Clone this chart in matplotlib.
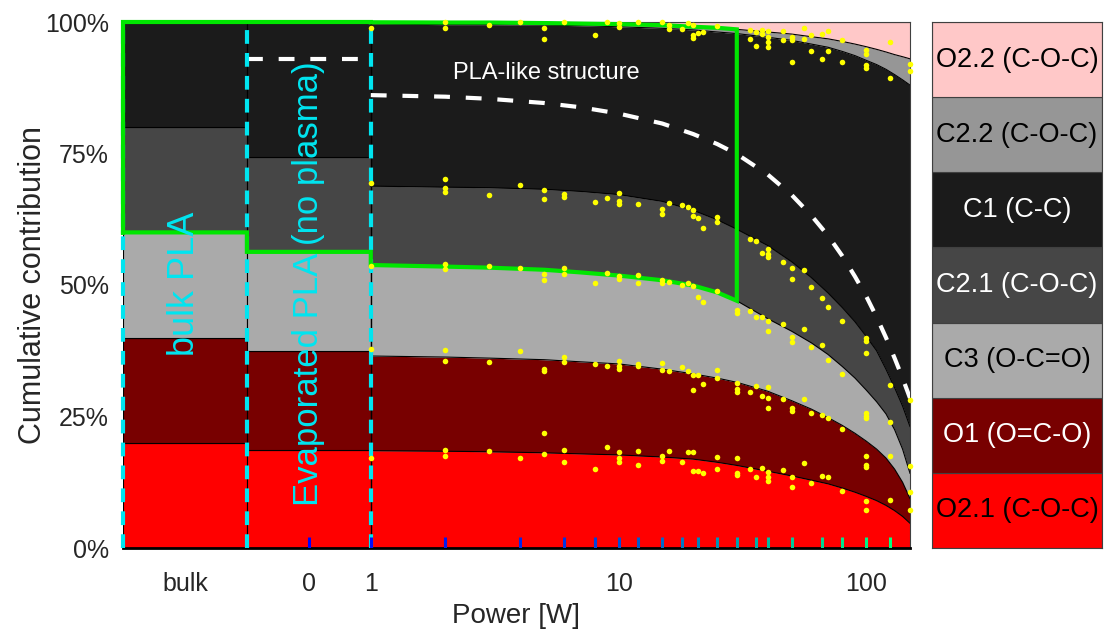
import numpy as np
from matplotlib import pyplot as plt

plt.rcParams['font.family'] = ['Liberation Sans', 'DejaVu Sans']

# components, bottom to top of the stack
labels = ['O2.1 (C-O-C)', 'O1 (O=C-O)', 'C3 (O-C=O)', 'C2.1 (C-O-C)', 'C1 (C-C)', 'C2.2 (C-O-C)', 'O2.2 (C-O-C)']
colors = ['#FF0000', '#780000', '#AAAAAA', '#464646', '#1B1B1B', '#969696', '#FFC8C8']
text_colors = ['black', 'white', 'black', 'white', 'white', 'black', 'black']

# cumulative contribution (%) for bulk PLA and evaporated PLA (no plasma)
bulk_cum = [20, 40, 60, 80, 100, 100, 100]
zero_cum = [18.7, 37.5, 56.3, 74.3, 100, 100, 100]

# fitted cumulative contribution (%) vs plasma power [W]
power = [1, 2, 3, 5, 7, 10, 15, 20, 25, 30, 40, 50, 60, 70, 80, 90, 100, 110, 120, 130, 140, 150]
cum_O21 = [18.5, 18.4, 18.3, 18.1, 17.9, 17.7, 17.3, 16.9, 16.3, 15.7, 14.6, 13.7, 12.9, 12.2, 11.4, 10.6, 9.8, 9.0, 8.1, 7.1, 6.0, 4.7]
cum_O1 = [36.5, 36.3, 36.1, 35.8, 35.4, 35.0, 34.0, 33.1, 32.3, 31.5, 29.8, 28.0, 26.4, 24.8, 23.3, 21.8, 20.3, 18.8, 17.1, 15.0, 12.5, 9.4]
cum_C3 = [53.8, 53.5, 53.3, 52.9, 52.4, 51.8, 50.9, 49.9, 48.6, 47.0, 43.6, 41.2, 39.0, 36.8, 34.5, 32.3, 30.0, 27.8, 25.5, 22.5, 18.8, 14.2]
cum_C21 = [68.8, 68.6, 68.5, 68.2, 67.8, 67.2, 65.9, 64.2, 62.4, 60.6, 57.5, 54.4, 51.4, 48.5, 45.7, 43.0, 40.2, 37.5, 34.0, 30.5, 27.0, 23.1]
cum_C1 = [99.6, 99.5, 99.5, 99.4, 99.3, 99.1, 98.8, 98.5, 98.1, 97.8, 97.1, 96.5, 95.8, 95.2, 94.4, 93.6, 92.7, 91.9, 91.0, 90.0, 89.0, 88.0]
cum_C22 = [99.95, 99.9, 99.9, 99.8, 99.7, 99.6, 99.4, 99.1, 98.9, 98.6, 98.1, 97.7, 97.2, 96.8, 96.3, 95.8, 95.3, 94.8, 94.3, 93.8, 93.4, 93.0]
cum_O22 = [100] * len(power)

# PLA-like reference curve
pla_zero = 92.9
pla_curve = [86.1, 85.8, 85.4, 84.6, 83.8, 82.6, 80.7, 78.7, 76.8, 74.9, 71.0, 67.1, 63.2, 59.4, 55.5, 51.6, 47.8, 43.9, 40.0, 36.1, 32.3, 28.5]
pla_limit = 30

# measured samples
sample_power = [0, 1, 2, 4, 6, 8, 10, 12, 15, 18, 21, 25, 30, 36, 40, 50, 66, 80, 100, 125]

# measured cumulative contributions (%)
dot_power = [1, 2, 3, 4, 5, 6, 8, 9, 10, 12, 15, 16, 18, 19, 20, 21, 22, 25, 30, 34, 36, 38, 40, 46, 50, 56, 60, 66, 70, 80, 100, 125, 150]
dot_cum = [
    [98.9, 69.4, 53.6, 37.8, 17.1],
    [100, 98.9, 70.2, 68.4, 67.7, 54.0, 53.0, 37.6, 35.6, 18.6, 17.5],
    [99.4, 67.1, 53.6, 35.4, 18.4],
    [100, 69.0, 53.2, 37.5, 17.1],
    [98.9, 96.8, 68.1, 66.3, 52.1, 51.0, 34.0, 33.7, 21.9, 17.9],
    [100, 67.3, 66.7, 53.2, 52.1, 36.3, 35.4, 18.6, 16.3],
    [97.5, 65.8, 50.4, 35.0, 15.0],
    [100, 66.5, 52.3, 34.6, 19.2],
    [99.8, 99.0, 67.5, 66.0, 65.4, 51.7, 51.1, 35.6, 34.6, 34.0, 18.3, 17.1, 16.3],
    [100, 65.4, 51.9, 50.4, 35.0, 34.6, 18.4, 15.8],
    [100, 64.4, 63.5, 51.0, 50.4, 35.2, 33.8, 17.5, 16.5],
    [99.4, 98.7, 65.6, 50.6, 33.7, 18.4],
    [98.7, 65.2, 50.0, 34.4, 16.3],
    [99.8, 64.8, 50.4, 33.7, 18.3],
    [99.4, 97.5, 97.0, 64.3, 63.1, 49.8, 32.9, 30.0, 18.3, 14.6],
    [97.9, 62.7, 47.7, 32.9, 14.6],
    [98.1, 60.8, 46.8, 31.2, 14.3],
    [99.2, 62.9, 62.0, 48.9, 33.8, 32.3, 17.3, 15.0],
    [45.2, 44.7, 31.4, 30.2, 29.7, 17.1, 14.3, 13.9],
    [98.5, 96.8, 58.7, 45.1, 29.7, 15.0],
    [98.1, 95.4, 58.4, 43.9, 30.8, 13.5],
    [98.5, 97.7, 56.1, 43.9, 28.9, 15.2],
    [98.3, 97.1, 96.2, 95.2, 56.8, 55.9, 55.3, 43.2, 41.3, 30.6, 28.5, 26.6, 14.4, 13.5, 12.7],
    [98.3, 96.6, 54.4, 42.6, 28.3, 14.8],
    [97.1, 96.6, 92.4, 53.2, 51.1, 40.1, 39.2, 26.6, 26.0, 13.5, 11.6],
    [98.9, 96.8, 52.9, 41.6, 28.3, 16.2],
    [97.5, 94.5, 49.6, 38.2, 25.7, 12.4],
    [97.7, 93.0, 47.5, 38.6, 25.3, 13.7],
    [98.3, 94.5, 45.8, 35.7, 24.7, 13.5],
    [96.6, 92.4, 43.2, 33.1, 22.6, 10.8],
    [94.7, 93.9, 91.8, 91.3, 39.9, 39.4, 37.1, 25.7, 25.1, 24.7, 17.5, 15.8, 15.4, 8.9, 7.2],
    [96.2, 89.4, 31.0, 24.0, 17.5, 9.1],
    [92.0, 90.7, 28.1, 15.6, 10.6, 7.2],
]

# x axis: bulk and 0 W get half a decade each left of 1 W, then log10(P)
bulk_left, zero_left = -1.0, -0.5
def xpos(p):
    p = np.asarray(p, dtype=float)
    return np.where(p > 0, np.log10(np.maximum(p, 1e-9)), -0.25)

fig = plt.figure(figsize=(11.07, 6.33), dpi=100)
ax = fig.add_axes([123/1107, 85/633, 787/1107, 526/633])
lax = fig.add_axes([932/1107, 85/633, 170/1107, 526/633])

cums = [cum_O21, cum_O1, cum_C3, cum_C21, cum_C1, cum_C22, cum_O22]
t = np.log10(power)
lower = np.zeros(len(power))
lower_b, lower_z = 0, 0
for i in range(7):
    ax.bar(bulk_left, bulk_cum[i] - lower_b, bottom=lower_b, width=0.5, align='edge',
           color=colors[i], edgecolor='black', linewidth=0.8, zorder=1)
    ax.bar(zero_left, zero_cum[i] - lower_z, bottom=lower_z, width=0.5, align='edge',
           color=colors[i], edgecolor='black', linewidth=0.8, zorder=1)
    lower_b, lower_z = bulk_cum[i], zero_cum[i]
    upper = np.array(cums[i], dtype=float)
    ax.fill_between(t, lower, upper, color=colors[i], linewidth=0, zorder=1)
    ax.plot(t, upper, color='black', lw=0.8, zorder=2)
    lower = upper
ax.axvline(0, color='black', lw=1, zorder=2)

# PLA-like structure reference
ax.plot([zero_left, 0], [pla_zero, pla_zero], color='white', lw=3, ls=(0, (3.8, 3.8)), zorder=3)
ax.plot(t, pla_curve, color='white', lw=3, ls=(0, (3.8, 3.8)), zorder=3)

for xv in [bulk_left, zero_left, 0]:
    ax.plot([xv, xv], [0, 100], color='#00E5F0', lw=3, ls=(0, (3.3, 2.2)), zorder=4, clip_on=False)

# outline of the C1 + C2 part
k = power.index(pla_limit) + 1
gx = [bulk_left, bulk_left, 0] + list(t[:k]) + list(t[:k][::-1]) + [0, zero_left, zero_left, bulk_left]
gy = [bulk_cum[2], 100, 100] + cum_C22[:k] + cum_C3[:k][::-1] + [zero_cum[2], zero_cum[2], bulk_cum[2], bulk_cum[2]]
ax.plot(gx, gy, color='#00E600', lw=3, solid_joinstyle='miter', zorder=5, clip_on=False)

# sample markers along the bottom
tick_colors = plt.cm.winter(np.linspace(0, 1, len(sample_power)))
for p, c in zip(sample_power, tick_colors):
    xv = float(xpos(p))
    ax.plot([xv, xv], [0, 2], color=c, lw=2.2, solid_capstyle='butt', zorder=5)

dx = np.concatenate([np.full(len(v), p, dtype=float) for p, v in zip(dot_power, dot_cum)])
dy = np.concatenate([np.array(v, dtype=float) for v in dot_cum])
ax.plot(np.log10(dx), dy, 'o', color='#FFFF00', ms=4, mew=0, zorder=6, clip_on=False)

ax.text(-0.75, 50.2, 'bulk PLA', color='#00E5F0', fontsize=26, rotation=90, ha='center', va='center', zorder=7)
ax.text(-0.25, 50.2, 'Evaporated PLA (no plasma)', color='#00E5F0', fontsize=25, rotation=90,
        ha='center', va='center', zorder=7)
ax.text(0.71, 90.3, 'PLA-like structure', color='white', fontsize=17, ha='center', va='center', zorder=7)

ax.set_xlim(bulk_left, np.log10(150))
ax.set_ylim(0, 100)
ax.set_xticks([-0.75, -0.25, 0, 1, 2])
ax.set_xticklabels(['bulk', '0', '1', '10', '100'])
ax.set_yticks([0, 25, 50, 75, 100])
ax.set_yticklabels(['0%', '25%', '50%', '75%', '100%'])
ax.tick_params(length=0, labelsize=18, labelcolor='#262626')
ax.tick_params(axis='x', pad=17)
ax.tick_params(axis='y', pad=10)
ax.set_xlabel('Power [W]', fontsize=20, color='#262626', labelpad=5)
ax.set_ylabel('Cumulative contribution', fontsize=22, color='#262626', labelpad=-2)
for s in ['top', 'right']:
    ax.spines[s].set_linewidth(0.8)
    ax.spines[s].set_color('#404040')
ax.spines['left'].set_visible(False)
ax.spines['bottom'].set_linewidth(2)

# colour key
for i in range(7):
    lax.bar(0, 1, bottom=i, width=1, align='edge', color=colors[i], edgecolor='#404040', linewidth=0.8)
    lax.text(0.5, i + 0.5, labels[i], color=text_colors[i], fontsize=19.5, ha='center', va='center')
lax.set_xlim(0, 1)
lax.set_ylim(0, 7)
lax.set_xticks([])
lax.set_yticks([])
for s in lax.spines.values():
    s.set_linewidth(0.8)
    s.set_color('#404040')

fig.savefig('out.png', dpi=100)
